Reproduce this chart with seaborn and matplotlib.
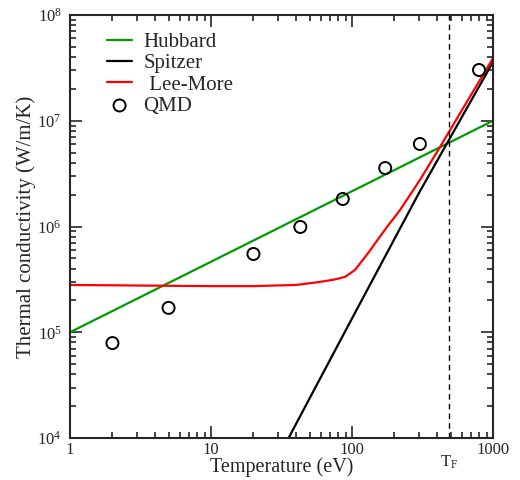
import matplotlib
matplotlib.use("Agg")
import matplotlib.pyplot as plt
from matplotlib.ticker import LogLocator, FixedLocator, FuncFormatter, NullFormatter
import numpy as np
import pandas as pd
import seaborn as sns

# --- data ---
hubbard_T = [1, 1000]
hubbard_k = [1.0e5, 1.0e7]

spitzer_T = [35.5, 100, 300, 1000]
spitzer_k = [1.0e4, 1.35e5, 2.1e6, 3.6e7]

leemore_T = [1, 2, 5, 10, 20, 40, 59, 75, 89, 105, 130, 177, 219, 303, 421, 600, 1000]
leemore_k = [2.8e5, 2.78e5, 2.75e5, 2.73e5, 2.73e5, 2.8e5, 2.99e5, 3.15e5, 3.33e5, 3.88e5,
             5.6e5, 9.9e5, 1.43e6, 2.75e6, 5.65e6, 1.25e7, 3.9e7]

qmd_T = [2, 5, 20, 43, 86, 172, 303, 796]
qmd_k = [7.9e4, 1.7e5, 5.5e5, 9.9e5, 1.82e6, 3.57e6, 6.03e6, 3.02e7]

T_fermi = 490

sns.set_style("ticks")
plt.rcParams['font.family'] = ['Liberation Serif', 'DejaVu Serif']
plt.rcParams['mathtext.fontset'] = 'custom'
plt.rcParams['mathtext.rm'] = 'Liberation Serif'
plt.rcParams['mathtext.it'] = 'Liberation Serif:italic'

fig = plt.figure(figsize=(5.2, 4.8), dpi=100)
ax = fig.add_axes([70/520, 42/480, 423/520, 423/480])

lines = pd.concat([
    pd.DataFrame({'T': hubbard_T, 'k': hubbard_k, 'model': 'Hubbard'}),
    pd.DataFrame({'T': spitzer_T, 'k': spitzer_k, 'model': 'Spitzer'}),
    pd.DataFrame({'T': leemore_T, 'k': leemore_k, 'model': ' Lee-More'}),
])
palette = {'Hubbard': '#009900', 'Spitzer': 'black', ' Lee-More': '#ff0000'}
sns.lineplot(data=lines, x='T', y='k', hue='model', palette=palette, sort=False,
             estimator=None, lw=1.6, ax=ax)

qmd = pd.DataFrame({'T': qmd_T, 'k': qmd_k})
sns.scatterplot(data=qmd, x='T', y='k', marker='o', s=75, facecolor='none',
                edgecolor='black', linewidth=1.4, label='QMD', ax=ax, zorder=5)

ax.axvline(T_fermi, color='black', ls=(0, (4, 3)), lw=1.0)

ax.set_xscale('log')
ax.set_yscale('log')
ax.set_xlim(1, 1000)
ax.set_ylim(1e4, 1e8)

ax.xaxis.set_major_locator(FixedLocator([1, 10, 100, 1000]))
ax.xaxis.set_major_formatter(FuncFormatter(lambda v, p: f"{int(round(v))}"))
ax.xaxis.set_minor_locator(LogLocator(base=10, subs=np.arange(2, 10)))
ax.xaxis.set_minor_formatter(NullFormatter())
ax.yaxis.set_major_locator(FixedLocator([1e4, 1e5, 1e6, 1e7, 1e8]))
ax.yaxis.set_major_formatter(FuncFormatter(lambda v, p: r"$10^{%d}$" % round(np.log10(v))))
ax.yaxis.set_minor_locator(LogLocator(base=10, subs=np.arange(2, 10)))
ax.yaxis.set_minor_formatter(NullFormatter())

ax.tick_params(which='both', direction='in', top=True, right=True, width=1.2, labelsize=12)
ax.tick_params(which='major', length=8.5)
ax.tick_params(which='minor', length=4.3)
ax.tick_params(axis='x', which='major', pad=3)
ax.tick_params(axis='y', which='major', pad=6)
for s in ax.spines.values():
    s.set_linewidth(1.5)

ax.set_xlabel('Temperature (eV)', fontsize=14.5, labelpad=-1)
ax.set_ylabel('Thermal conductivity (W/m/K)', fontsize=15, labelpad=1)

ax.text(T_fermi, -0.038, r'T$_{\mathregular{F}}$', transform=ax.get_xaxis_transform(),
        ha='center', va='top', fontsize=12)

ax.legend(loc='upper left', bbox_to_anchor=(0.063, 0.983), frameon=False, fontsize=15,
          handlelength=1.2, handletextpad=0.55, labelspacing=0.08, borderpad=0)

fig.savefig('out.png', dpi=100)
